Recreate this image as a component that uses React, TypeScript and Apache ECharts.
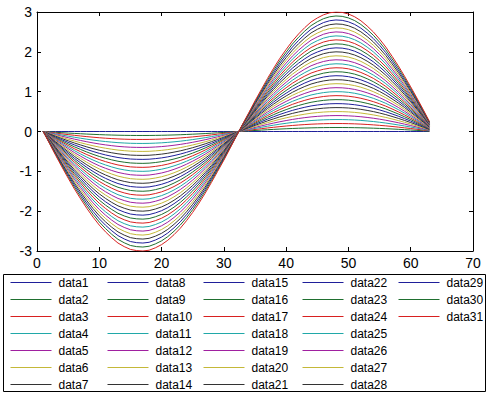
import React, { useEffect, useRef } from "react";
import * as echarts from "echarts";

const xValues = [
  1, 2, 3, 4, 5, 6, 7, 8, 9, 10, 11, 12, 13, 14, 15, 16, 17, 18, 19, 20, 21,
  22, 23, 24, 25, 26, 27, 28, 29, 30, 31, 32, 33, 34, 35, 36, 37, 38, 39, 40,
  41, 42, 43, 44, 45, 46, 47, 48, 49, 50, 51, 52, 53, 54, 55, 56, 57, 58, 59,
  60, 61, 62, 63,
];

// outermost curve (data31)
const outerCurve = [
  0, -0.3, -0.6, -0.89, -1.17, -1.44, -1.69, -1.93, -2.15, -2.35, -2.52, -2.67,
  -2.8, -2.89, -2.96, -2.99, -3.0, -2.98, -2.92, -2.84, -2.73, -2.59, -2.43,
  -2.24, -2.03, -1.8, -1.55, -1.28, -1.0, -0.72, -0.42, -0.12, 0.18, 0.47, 0.77,
  1.05, 1.33, 1.59, 1.84, 2.06, 2.27, 2.45, 2.61, 2.75, 2.85, 2.93, 2.98, 3.0,
  2.99, 2.95, 2.88, 2.78, 2.65, 2.5, 2.32, 2.12, 1.89, 1.65, 1.39, 1.12, 0.84,
  0.55, 0.25,
];

// peak amplitude of each series data1..data31
const amplitudes = [
  0, 0.1, 0.2, 0.3, 0.4, 0.5, 0.6, 0.7, 0.8, 0.9, 1.0, 1.1, 1.2, 1.3, 1.4, 1.5,
  1.6, 1.7, 1.8, 1.9, 2.0, 2.1, 2.2, 2.3, 2.4, 2.5, 2.6, 2.7, 2.8, 2.9, 3.0,
];

const seriesNames = amplitudes.map((_, i) => "data" + (i + 1));

const xTicks = { min: 0, max: 70, interval: 10 };
const yTicks = { min: -3, max: 3, interval: 1 };

const palette = [
  "#1f1f9a",
  "#1f6f2f",
  "#d82020",
  "#20a8a8",
  "#a020a0",
  "#c4b838",
  "#333333",
];

const legendColumnsLeft = [10, 107, 203, 302, 398];

export default function App() {
  const ref = useRef<HTMLDivElement>(null);
  useEffect(() => {
    if (!ref.current) return;
    const chart = echarts.init(ref.current, null, { renderer: "svg" });
    const font = "Liberation Sans, Arial, sans-serif";
    const peak = 3;
    const series = amplitudes.map((a, k) => ({
      name: seriesNames[k],
      type: "line",
      symbol: "none",
      showSymbol: false,
      lineStyle: { width: 1 },
      emphasis: { disabled: true },
      data: xValues.map((x, i) => [x, (outerCurve[i] * a) / peak]),
    }));
    const legends = legendColumnsLeft.map((left, c) => ({
      orient: "vertical",
      left,
      top: 276.5,
      padding: 0,
      itemWidth: 41,
      itemHeight: 12,
      itemGap: 5,
      selectedMode: false,
      itemStyle: { opacity: 0 },
      lineStyle: { width: 1 },
      textStyle: {
        fontSize: 12,
        fontFamily: font,
        color: "#000",
        padding: [0, 0, 0, 2],
      },
      data: seriesNames.slice(c * 7, c * 7 + 7),
    }));
    const axisCommon = {
      axisLine: { show: true, onZero: false, lineStyle: { color: "#000", width: 1 } },
      axisTick: { show: true, inside: true, length: 4, lineStyle: { color: "#000" } },
      splitLine: { show: false },
    };
    chart.setOption({
      animation: false,
      color: palette,
      backgroundColor: "#fff",
      grid: { left: 37, top: 12, right: 16, height: 239 },
      legend: legends,
      xAxis: [
        {
          type: "value",
          position: "bottom",
          ...xTicks,
          ...axisCommon,
          axisLabel: { fontSize: 14, fontFamily: font, color: "#000", margin: 5 },
        },
        {
          type: "value",
          position: "top",
          ...xTicks,
          ...axisCommon,
          axisLabel: { show: false },
        },
      ],
      yAxis: [
        {
          type: "value",
          position: "left",
          ...yTicks,
          ...axisCommon,
          axisLabel: { fontSize: 14, fontFamily: font, color: "#000", margin: 5 },
        },
        {
          type: "value",
          position: "right",
          ...yTicks,
          ...axisCommon,
          axisLabel: { show: false },
        },
      ],
      graphic: [
        {
          type: "rect",
          z: -1,
          shape: { x: 3.5, y: 274.5, width: 482, height: 117 },
          style: { fill: "#fff", stroke: "#000", lineWidth: 1 },
        },
      ],
      series,
    });
    return () => chart.dispose();
  }, []);
  return (
    <div
      ref={ref}
      style={{ position: "fixed", left: 0, top: 0, width: 489, height: 395 }}
    />
  );
}
